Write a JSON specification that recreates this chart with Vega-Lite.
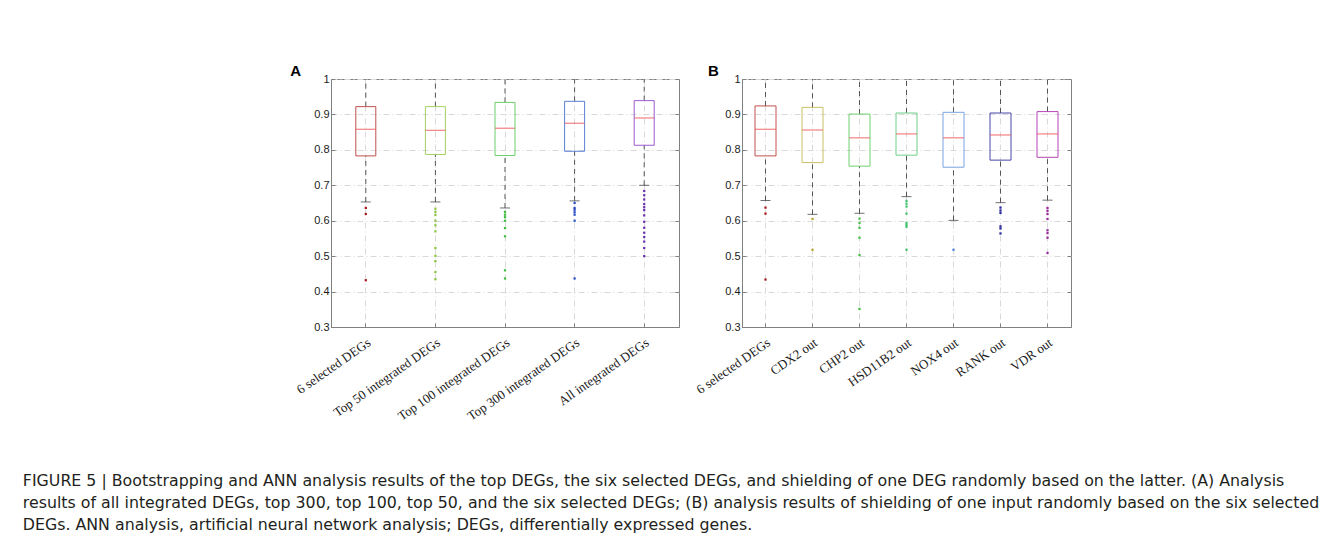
{
  "$schema": "https://vega.github.io/schema/vega-lite/v6.json",
  "background": "white",
  "autosize": {"type": "pad"},
  "padding": {"left": 22, "top": 63, "right": 5, "bottom": 5},
  "datasets": {
    "boxA": [
      {"cat": "6 selected DEGs", "lo": 0.653, "q1": 0.783, "med": 0.858, "q3": 0.922, "hi": 1},
      {"cat": "Top 50 integrated DEGs", "lo": 0.653, "q1": 0.787, "med": 0.855, "q3": 0.922, "hi": 1},
      {"cat": "Top 100 integrated DEGs", "lo": 0.636, "q1": 0.784, "med": 0.861, "q3": 0.934, "hi": 1},
      {"cat": "Top 300 integrated DEGs", "lo": 0.656, "q1": 0.796, "med": 0.875, "q3": 0.937, "hi": 1},
      {"cat": "All integrated DEGs", "lo": 0.700, "q1": 0.813, "med": 0.890, "q3": 0.939, "hi": 1}
    ],
    "outA": [
      {"cat": "6 selected DEGs", "v": 0.636}, {"cat": "6 selected DEGs", "v": 0.619}, {"cat": "6 selected DEGs", "v": 0.432},
      {"cat": "Top 50 integrated DEGs", "v": 0.634}, {"cat": "Top 50 integrated DEGs", "v": 0.625}, {"cat": "Top 50 integrated DEGs", "v": 0.616},
      {"cat": "Top 50 integrated DEGs", "v": 0.600}, {"cat": "Top 50 integrated DEGs", "v": 0.587}, {"cat": "Top 50 integrated DEGs", "v": 0.570},
      {"cat": "Top 50 integrated DEGs", "v": 0.523}, {"cat": "Top 50 integrated DEGs", "v": 0.501}, {"cat": "Top 50 integrated DEGs", "v": 0.486},
      {"cat": "Top 50 integrated DEGs", "v": 0.455}, {"cat": "Top 50 integrated DEGs", "v": 0.435},
      {"cat": "Top 100 integrated DEGs", "v": 0.625}, {"cat": "Top 100 integrated DEGs", "v": 0.617}, {"cat": "Top 100 integrated DEGs", "v": 0.610},
      {"cat": "Top 100 integrated DEGs", "v": 0.600}, {"cat": "Top 100 integrated DEGs", "v": 0.579}, {"cat": "Top 100 integrated DEGs", "v": 0.556},
      {"cat": "Top 100 integrated DEGs", "v": 0.460}, {"cat": "Top 100 integrated DEGs", "v": 0.437},
      {"cat": "Top 300 integrated DEGs", "v": 0.650}, {"cat": "Top 300 integrated DEGs", "v": 0.636}, {"cat": "Top 300 integrated DEGs", "v": 0.631},
      {"cat": "Top 300 integrated DEGs", "v": 0.624}, {"cat": "Top 300 integrated DEGs", "v": 0.617}, {"cat": "Top 300 integrated DEGs", "v": 0.600},
      {"cat": "Top 300 integrated DEGs", "v": 0.437},
      {"cat": "All integrated DEGs", "v": 0.684}, {"cat": "All integrated DEGs", "v": 0.672}, {"cat": "All integrated DEGs", "v": 0.660},
      {"cat": "All integrated DEGs", "v": 0.647}, {"cat": "All integrated DEGs", "v": 0.638}, {"cat": "All integrated DEGs", "v": 0.630},
      {"cat": "All integrated DEGs", "v": 0.615}, {"cat": "All integrated DEGs", "v": 0.597}, {"cat": "All integrated DEGs", "v": 0.580},
      {"cat": "All integrated DEGs", "v": 0.566}, {"cat": "All integrated DEGs", "v": 0.554}, {"cat": "All integrated DEGs", "v": 0.541},
      {"cat": "All integrated DEGs", "v": 0.523}, {"cat": "All integrated DEGs", "v": 0.500}
    ],
    "boxB": [
      {"cat": "6 selected DEGs", "lo": 0.657, "q1": 0.783, "med": 0.858, "q3": 0.924, "hi": 1},
      {"cat": "CDX2 out", "lo": 0.618, "q1": 0.764, "med": 0.856, "q3": 0.920, "hi": 1},
      {"cat": "CHP2 out", "lo": 0.621, "q1": 0.754, "med": 0.834, "q3": 0.901, "hi": 1},
      {"cat": "HSD11B2 out", "lo": 0.668, "q1": 0.785, "med": 0.845, "q3": 0.904, "hi": 1},
      {"cat": "NOX4 out", "lo": 0.601, "q1": 0.751, "med": 0.834, "q3": 0.906, "hi": 1},
      {"cat": "RANK out", "lo": 0.651, "q1": 0.771, "med": 0.842, "q3": 0.904, "hi": 1},
      {"cat": "VDR out", "lo": 0.658, "q1": 0.779, "med": 0.845, "q3": 0.908, "hi": 1}
    ],
    "outB": [
      {"cat": "6 selected DEGs", "v": 0.637}, {"cat": "6 selected DEGs", "v": 0.620}, {"cat": "6 selected DEGs", "v": 0.434},
      {"cat": "CDX2 out", "v": 0.605}, {"cat": "CDX2 out", "v": 0.518},
      {"cat": "CHP2 out", "v": 0.606}, {"cat": "CHP2 out", "v": 0.594}, {"cat": "CHP2 out", "v": 0.580},
      {"cat": "CHP2 out", "v": 0.552}, {"cat": "CHP2 out", "v": 0.503}, {"cat": "CHP2 out", "v": 0.351},
      {"cat": "HSD11B2 out", "v": 0.656}, {"cat": "HSD11B2 out", "v": 0.648}, {"cat": "HSD11B2 out", "v": 0.640},
      {"cat": "HSD11B2 out", "v": 0.620}, {"cat": "HSD11B2 out", "v": 0.594}, {"cat": "HSD11B2 out", "v": 0.588},
      {"cat": "HSD11B2 out", "v": 0.583}, {"cat": "HSD11B2 out", "v": 0.518},
      {"cat": "NOX4 out", "v": 0.518},
      {"cat": "RANK out", "v": 0.637}, {"cat": "RANK out", "v": 0.629}, {"cat": "RANK out", "v": 0.622},
      {"cat": "RANK out", "v": 0.584}, {"cat": "RANK out", "v": 0.578}, {"cat": "RANK out", "v": 0.564},
      {"cat": "VDR out", "v": 0.636}, {"cat": "VDR out", "v": 0.628}, {"cat": "VDR out", "v": 0.619},
      {"cat": "VDR out", "v": 0.605}, {"cat": "VDR out", "v": 0.573}, {"cat": "VDR out", "v": 0.565},
      {"cat": "VDR out", "v": 0.552}, {"cat": "VDR out", "v": 0.509}
    ]
  },
  "title": {
    "text": [
      "FIGURE 5 | Bootstrapping and ANN analysis results of the top DEGs, the six selected DEGs, and shielding of one DEG randomly based on the latter. (A) Analysis",
      "results of all integrated DEGs, top 300, top 100, top 50, and the six selected DEGs; (B) analysis results of shielding of one input randomly based on the six selected",
      "DEGs. ANN analysis, artificial neural network analysis; DEGs, differentially expressed genes."
    ],
    "orient": "bottom",
    "anchor": "start",
    "font": "DejaVu Sans",
    "fontSize": 15.8,
    "fontWeight": "normal",
    "color": "#231f20",
    "lineHeight": 22,
    "dx": -267,
    "offset": 51
  },
  "spacing": 13,
  "resolve": {"scale": {"x": "independent", "stroke": "independent", "fill": "independent"}},
  "hconcat": [
    {
      "width": 348,
      "height": 248,
      "title": {"text": "A", "anchor": "start", "font": "Liberation Sans", "fontSize": 15, "fontWeight": "bold", "color": "#000000", "dx": -4, "offset": -6},
      "resolve": {"axis": {"y": "independent"}},
      "layer": [
        {
          "data": {"name": "boxA"},
          "mark": {"type": "rule", "color": "#555555", "strokeDash": [5, 4], "strokeWidth": 1},
          "encoding": {
            "x": {"field": "cat", "type": "nominal", "title": null, "sort": null, "scale": {"domain": ["6 selected DEGs", "Top 50 integrated DEGs", "Top 100 integrated DEGs", "Top 300 integrated DEGs", "All integrated DEGs"], "paddingInner": 0, "paddingOuter": 0}},
            "y": {"field": "lo", "type": "quantitative", "title": null, "scale": {"domain": [0.3, 1], "nice": false, "zero": false}, "axis": {"values": [0.3, 0.4, 0.5, 0.6, 0.7, 0.8, 0.9, 1], "format": "~g", "labelOverlap": false}},
            "y2": {"field": "q1"}
          }
        },
        {
          "data": {"name": "boxA"},
          "mark": {"type": "rule", "color": "#555555", "strokeDash": [5, 4], "strokeWidth": 1},
          "encoding": {
            "x": {"field": "cat", "type": "nominal", "title": null, "sort": null},
            "y": {"field": "q3", "type": "quantitative", "title": null, "axis": null},
            "y2": {"field": "hi"}
          }
        },
        {
          "data": {"name": "boxA"},
          "mark": {"type": "tick", "color": "#333333", "size": 10, "thickness": 1},
          "encoding": {
            "x": {"field": "cat", "type": "nominal", "title": null, "sort": null},
            "y": {"field": "lo", "type": "quantitative", "title": null, "axis": null}
          }
        },
        {
          "data": {"name": "boxA"},
          "mark": {"type": "bar", "width": 20, "fill": "transparent", "strokeWidth": 1},
          "encoding": {
            "x": {"field": "cat", "type": "nominal", "title": null, "sort": null},
            "y": {"field": "q1", "type": "quantitative", "title": null, "axis": null},
            "y2": {"field": "q3"},
            "stroke": {"field": "cat", "type": "nominal", "legend": null, "scale": {"domain": ["6 selected DEGs", "Top 50 integrated DEGs", "Top 100 integrated DEGs", "Top 300 integrated DEGs", "All integrated DEGs"], "range": ["#c0504d", "#a6d25e", "#6ccf6c", "#5b7fd4", "#9b5bd0"]}}
          }
        },
        {
          "data": {"name": "boxA"},
          "mark": {"type": "tick", "color": "#ee5a5a", "size": 20, "thickness": 1.3},
          "encoding": {
            "x": {"field": "cat", "type": "nominal", "title": null, "sort": null},
            "y": {"field": "med", "type": "quantitative", "title": null, "axis": null}
          }
        },
        {
          "data": {"name": "outA"},
          "mark": {"type": "square", "size": 5, "filled": true, "opacity": 1},
          "encoding": {
            "x": {"field": "cat", "type": "nominal", "title": null, "sort": null},
            "y": {"field": "v", "type": "quantitative", "title": null, "axis": {"orient": "right", "values": [0.3, 0.4, 0.5, 0.6, 0.7, 0.8, 0.9, 1], "labels": false, "grid": false, "domain": false, "tickSize": -4}},
            "fill": {"field": "cat", "type": "nominal", "legend": null, "scale": {"domain": ["6 selected DEGs", "Top 50 integrated DEGs", "Top 100 integrated DEGs", "Top 300 integrated DEGs", "All integrated DEGs"], "range": ["#a8171a", "#8cc63f", "#3cbf3c", "#2b4fc7", "#6a32b0"]}}
          }
        }
      ]
    },
    {
      "width": 329,
      "height": 248,
      "title": {"text": "B", "anchor": "start", "font": "Liberation Sans", "fontSize": 15, "fontWeight": "bold", "color": "#000000", "dx": 14, "offset": -6},
      "resolve": {"axis": {"y": "independent"}},
      "layer": [
        {
          "data": {"name": "boxB"},
          "mark": {"type": "rule", "color": "#555555", "strokeDash": [5, 4], "strokeWidth": 1},
          "encoding": {
            "x": {"field": "cat", "type": "nominal", "title": null, "sort": null, "scale": {"domain": ["6 selected DEGs", "CDX2 out", "CHP2 out", "HSD11B2 out", "NOX4 out", "RANK out", "VDR out"], "paddingInner": 0, "paddingOuter": 0}},
            "y": {"field": "lo", "type": "quantitative", "title": null, "scale": {"domain": [0.3, 1], "nice": false, "zero": false}, "axis": {"values": [0.3, 0.4, 0.5, 0.6, 0.7, 0.8, 0.9, 1], "format": "~g", "labelOverlap": false}},
            "y2": {"field": "q1"}
          }
        },
        {
          "data": {"name": "boxB"},
          "mark": {"type": "rule", "color": "#555555", "strokeDash": [5, 4], "strokeWidth": 1},
          "encoding": {
            "x": {"field": "cat", "type": "nominal", "title": null, "sort": null},
            "y": {"field": "q3", "type": "quantitative", "title": null, "axis": null},
            "y2": {"field": "hi"}
          }
        },
        {
          "data": {"name": "boxB"},
          "mark": {"type": "tick", "color": "#333333", "size": 10, "thickness": 1},
          "encoding": {
            "x": {"field": "cat", "type": "nominal", "title": null, "sort": null},
            "y": {"field": "lo", "type": "quantitative", "title": null, "axis": null}
          }
        },
        {
          "data": {"name": "boxB"},
          "mark": {"type": "bar", "width": 21, "fill": "transparent", "strokeWidth": 1},
          "encoding": {
            "x": {"field": "cat", "type": "nominal", "title": null, "sort": null},
            "y": {"field": "q1", "type": "quantitative", "title": null, "axis": null},
            "y2": {"field": "q3"},
            "stroke": {"field": "cat", "type": "nominal", "legend": null, "scale": {"domain": ["6 selected DEGs", "CDX2 out", "CHP2 out", "HSD11B2 out", "NOX4 out", "RANK out", "VDR out"], "range": ["#c0504d", "#c9c063", "#6fd06f", "#6fd08a", "#7aa3e3", "#4646a8", "#b545b5"]}}
          }
        },
        {
          "data": {"name": "boxB"},
          "mark": {"type": "tick", "color": "#ee5a5a", "size": 21, "thickness": 1.3},
          "encoding": {
            "x": {"field": "cat", "type": "nominal", "title": null, "sort": null},
            "y": {"field": "med", "type": "quantitative", "title": null, "axis": null}
          }
        },
        {
          "data": {"name": "outB"},
          "mark": {"type": "square", "size": 5, "filled": true, "opacity": 1},
          "encoding": {
            "x": {"field": "cat", "type": "nominal", "title": null, "sort": null},
            "y": {"field": "v", "type": "quantitative", "title": null, "axis": {"orient": "right", "values": [0.3, 0.4, 0.5, 0.6, 0.7, 0.8, 0.9, 1], "labels": false, "grid": false, "domain": false, "tickSize": -4}},
            "fill": {"field": "cat", "type": "nominal", "legend": null, "scale": {"domain": ["6 selected DEGs", "CDX2 out", "CHP2 out", "HSD11B2 out", "NOX4 out", "RANK out", "VDR out"], "range": ["#a8171a", "#b8a32a", "#44c044", "#44c070", "#4d7fe0", "#2a2aa0", "#9a2a9a"]}}
          }
        }
      ]
    }
  ],
  "config": {
    "view": {"stroke": "#808080", "strokeWidth": 1},
    "axis": {"domainColor": "#808080", "tickColor": "#808080", "gridColor": "#d9d9d9", "gridDash": [6, 3, 1, 3], "gridWidth": 1, "labelColor": "#1a1a1a", "grid": true},
    "axisX": {"labelFont": "Liberation Serif", "labelFontSize": 13, "labelAngle": -35, "labelAlign": "right", "labelBaseline": "top", "tickSize": -4, "labelPadding": 13, "bandPosition": 0.5},
    "axisY": {"labelFont": "Liberation Sans", "labelFontSize": 11, "tickSize": -4, "labelPadding": 6}
  }
}
